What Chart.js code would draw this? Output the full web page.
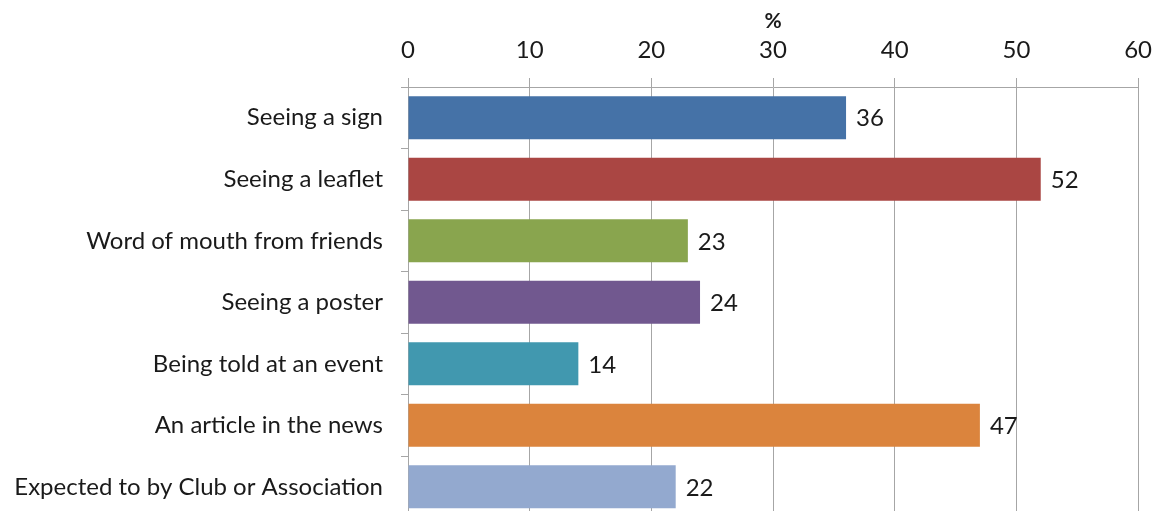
<!DOCTYPE html>
<html>
<head>
<meta charset="utf-8">
<script src="https://cdn.jsdelivr.net/npm/chart.js@4/dist/chart.umd.min.js"></script>
<style>
  html, body { margin: 0; padding: 0; background: #fff; overflow: hidden; }
  #wrap { position: relative; width: 1165px; height: 550px; }
</style>
</head>
<body>
<div id="wrap"><canvas id="chart"></canvas></div>
<script>
// Survey answers: how people heard about it (% of respondents)
const categories = [
  'Seeing a sign',
  'Seeing a leaflet',
  'Word of mouth from friends',
  'Seeing a poster',
  'Being told at an event',
  'An article in the news',
  'Expected to by Club or Association'
];
const percentages = [36, 52, 23, 24, 14, 47, 22];
const barColors = ['#4572A7', '#AA4643', '#89A54E', '#71588F', '#4198AF', '#DB843D', '#93A9CF'];
const axisTicks = [0, 10, 20, 30, 40, 50, 60];

const FONT = 'Lato, "Open Sans", sans-serif';
const TEXT = '#1a1a1a';
const GRID = '#a6a6a6';

// Writes the value just past the end of each bar
const valueLabels = {
  id: 'valueLabels',
  afterDatasetsDraw(chart) {
    const { ctx } = chart;
    const meta = chart.getDatasetMeta(0);
    ctx.save();
    ctx.font = '24px ' + FONT;
    ctx.fillStyle = TEXT;
    ctx.textAlign = 'left';
    ctx.textBaseline = 'middle';
    meta.data.forEach((bar, i) => {
      ctx.fillText(String(percentages[i]), bar.x + 10, bar.y + 1);
    });
    ctx.restore();
  }
};

new Chart(document.getElementById('chart'), {
  type: 'bar',
  data: {
    labels: categories,
    datasets: [{
      data: percentages,
      backgroundColor: barColors,
      borderWidth: 0,
      categoryPercentage: 0.7,
      barPercentage: 1
    }]
  },
  options: {
    indexAxis: 'y',
    responsive: true,
    maintainAspectRatio: false,
    animation: false,
    layout: { padding: { left: 0, right: 4, top: 0, bottom: 14 } },
    plugins: {
      legend: { display: false },
      tooltip: { enabled: false }
    },
    scales: {
      x: {
        position: 'top',
        min: 0,
        max: 60,
        afterBuildTicks(scale) {
          scale.ticks = axisTicks.map(v => ({ value: v }));
        },
        afterFit(scale) { scale.height = 87; },
        title: {
          display: true,
          text: '%',
          color: TEXT,
          font: { family: FONT, size: 21, weight: 'bold' },
          padding: { top: 9, bottom: 0 }
        },
        ticks: {
          color: TEXT,
          font: { family: FONT, size: 24 },
          padding: 13
        },
        grid: {
          color: GRID,
          lineWidth: 1,
          drawTicks: true,
          tickLength: 9
        },
        border: { display: true, color: GRID, width: 1 }
      },
      y: {
        afterFit(scale) { scale.width = 408; },
        ticks: {
          color: TEXT,
          font: { family: FONT, size: 24 },
          padding: 18
        },
        grid: {
          offset: true,
          drawOnChartArea: false,
          drawTicks: true,
          tickLength: 7,
          color: GRID
        },
        border: { display: true, color: GRID, width: 1 }
      }
    }
  },
  plugins: [valueLabels]
});
</script>
</body>
</html>
